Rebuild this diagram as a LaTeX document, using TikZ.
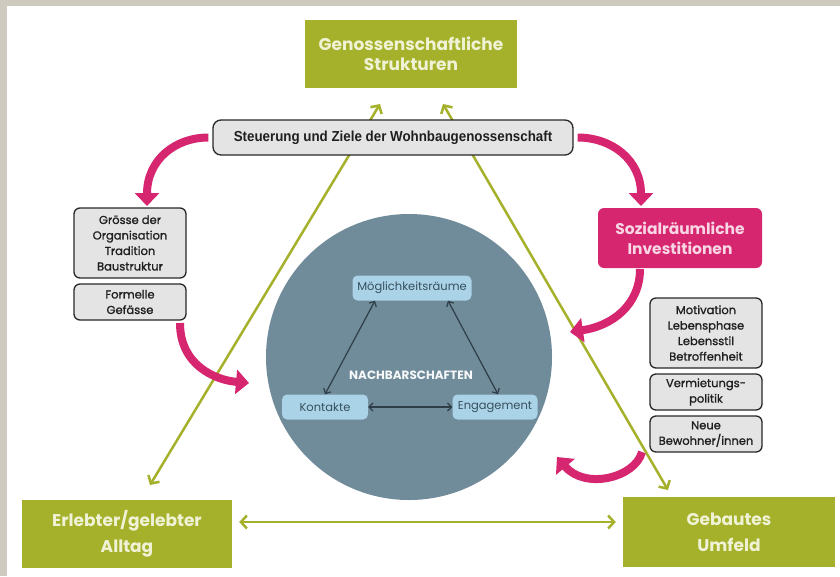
\documentclass[tikz,border=0pt]{standalone}
\usepackage{fontspec}
\setmainfont{Poppins}
\newfontfamily\narrowfont[FakeStretch=0.92]{Liberation Sans}
\newfontfamily\popmed[FakeBold=1.2]{Poppins}
\usetikzlibrary{arrows.meta}
\definecolor{framec}{RGB}{206,202,192}
\definecolor{olive}{RGB}{165,177,42}
\definecolor{olivetext}{RGB}{240,242,214}
\definecolor{pinkc}{RGB}{214,38,112}
\definecolor{pinktext}{RGB}{248,214,228}
\definecolor{slate}{RGB}{112,139,153}
\definecolor{lightblue}{RGB}{170,211,231}
\definecolor{innertext}{RGB}{55,80,94}
\definecolor{darkslate}{RGB}{45,62,72}
\definecolor{boxgrey}{RGB}{228,228,228}
\definecolor{boxline}{RGB}{40,40,40}
\begin{document}
\begin{tikzpicture}[x=1pt,y=-1pt,
  greenbox/.style={fill=olive, text=olivetext, font=\bfseries\fontsize{17}{20}\selectfont,
    align=center, minimum width=210, minimum height=68, inner sep=0},
  greybox/.style={fill=boxgrey, draw=boxline, line width=1.3pt, rounded corners=6pt,
    align=center, text=black!88, font=\popmed\fontsize{11.5}{15.5}\selectfont,
    minimum width=112, inner sep=1pt},
  pinkbox/.style={fill=pinkc, rounded corners=6pt, text=pinktext, align=center,
    font=\bfseries\fontsize{15.5}{20}\selectfont, minimum width=164, minimum height=60, inner sep=0},
  innerbox/.style={fill=lightblue, rounded corners=5pt, text=innertext,
    font=\fontsize{11.5}{14}\selectfont, minimum height=25, inner sep=0},
  pinkarrow/.style={draw=pinkc, line width=8pt, -{Triangle[length=13pt,width=24pt]}},
  greenline/.style={draw=olive, line width=2.5pt,
    {Straight Barb[length=6pt,width=13pt]}-{Straight Barb[length=6pt,width=13pt]}},
  innerarrow/.style={draw=darkslate, line width=1.2pt,
    {Straight Barb[length=4pt,width=8pt]}-{Straight Barb[length=4pt,width=8pt]}}
]
\useasboundingbox (0,0) rectangle (840,576);
\fill[framec] (0,0) rectangle (840,576);
\fill[white] (7,6) rectangle (840,576);

% green diagonal connectors (free ends as named coordinates)
\coordinate (lt) at (380,104);
\coordinate (lb) at (150,485);
\coordinate (rt) at (443,104);
\coordinate (rb) at (668,490);
\draw[greenline] (lb) -- (lt);
\draw[greenline] (rt) -- (rb);

% central circle
\node[circle, fill=slate, minimum size=286, inner sep=0] (circ) at (409,357) {};
\node[innerbox, minimum width=119] (moeg) at (412,288) {Möglichkeitsräume};
\node[innerbox, minimum width=86] (kont) at (325,407) {Kontakte};
\node[innerbox, minimum width=85] (eng) at (495,407) {Engagement};
\node[text=white!94!slate, font=\bfseries\fontsize{12}{14}\selectfont] (nach) at (411,375) {NACHBARSCHAFTEN};
\draw[innerarrow] ([xshift=-37]moeg.south) -- (kont.north);
\draw[innerarrow] ([xshift=36]moeg.south) -- ([xshift=3]eng.north);
\draw[innerarrow] (kont.east) -- (eng.west);

% green boxes
\node[greenbox, minimum width=212] (top) at (411,54) {Genossenschaftliche\\Strukturen};
\node[greenbox, font=\bfseries\fontsize{17}{26}\selectfont] (bl) at (127,534) {Erlebter/gelebter\\Alltag};
\node[greenbox, font=\bfseries\fontsize{17}{26}\selectfont, minimum width=212, minimum height=70] (br) at (729,532) {Gebautes\\Umfeld};
\draw[greenline] ([xshift=7]bl.east |- 0,522) -- ([xshift=-7]br.west |- 0,522);

% grey boxes
\node[greybox, minimum width=360, minimum height=35, rounded corners=8pt,
  font=\narrowfont\bfseries\fontsize{14.5}{16}\selectfont] (steuer) at (393,137.5)
  {Steuerung und Ziele der Wohnbaugenossenschaft};
\node[greybox, minimum height=70] (lg1) at (130,243) {Grösse der\\Organisation\\Tradition\\Baustruktur};
\node[greybox, minimum height=36] (lg2) at (130,302) {Formelle\\Gefässe};
\node[greybox, minimum height=70] (rg1) at (706,333) {Motivation\\Lebensphase\\Lebensstil\\Betroffenheit};
\node[greybox, minimum height=36] (rg2) at (706,392) {Vermietungs-\\politik};
\node[greybox, minimum height=36] (rg3) at (706,434) {Neue\\Bewohner/innen};

% pink box
\node[pinkbox] (sozial) at (680,238) {Sozialräumliche\\Investitionen};

% pink arrows
\coordinate (p1e) at (147,206);
\coordinate (p2e) at (641,206);
\coordinate (p3s) at (640,269);
\coordinate (p3e) at (570,332);
\coordinate (p4s) at (180,323);
\coordinate (p4e) at (249,383);
\coordinate (p5s) at (642,452);
\coordinate (p5e) at (557,457);
\draw[pinkarrow] ([xshift=-4]steuer.west) .. controls (175,137.5) and (147,160) .. (p1e);
\draw[pinkarrow] ([xshift=4]steuer.east) .. controls (612,137.5) and (641,160) .. (p2e);
\draw[pinkarrow] (p3s) .. controls (640,305) and (612,326) .. (p3e);
\draw[pinkarrow] (p4s) .. controls (180,365) and (215,380) .. (p4e);
\draw[pinkarrow] (p5s) .. controls (635,478) and (585,490) .. (p5e);
\end{tikzpicture}
\end{document}
